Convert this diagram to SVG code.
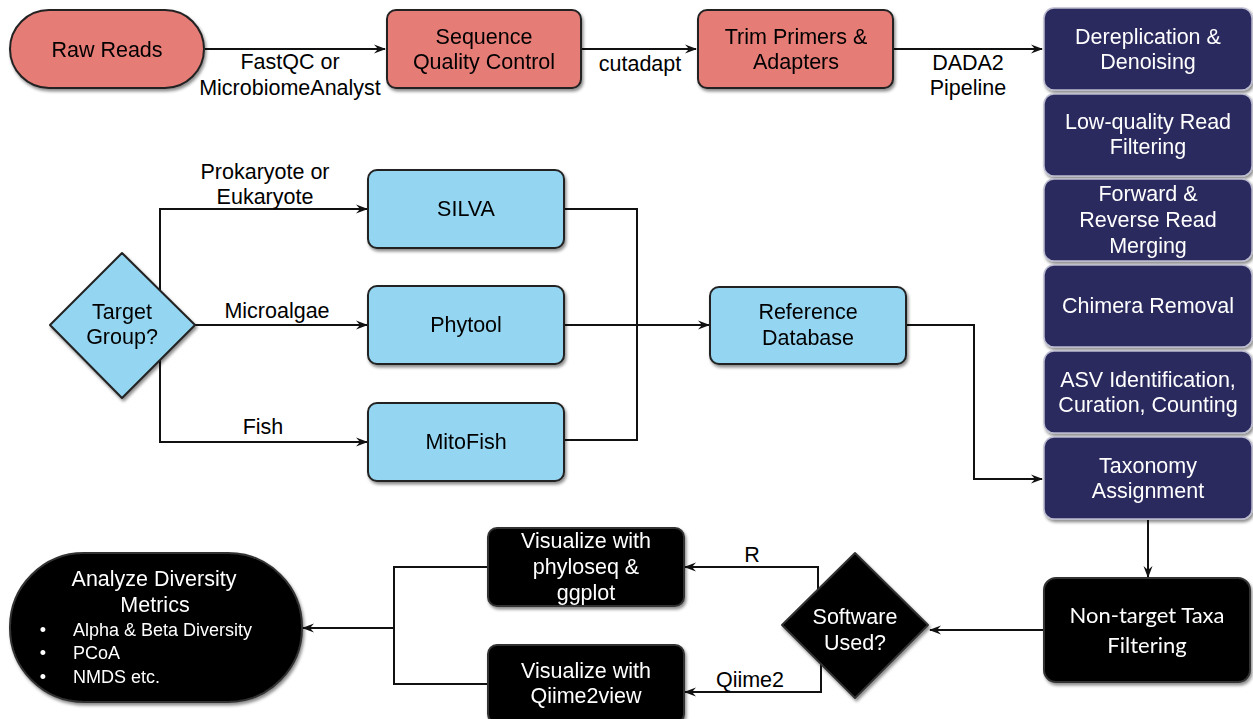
<svg xmlns="http://www.w3.org/2000/svg" width="1253" height="719" viewBox="0 0 1253 719">
<style>
  .t{font-family:"Liberation Sans",Arial,sans-serif;font-size:21.5px;text-anchor:middle;fill:#000}
  .w{fill:#fff}
  .cal{font-family:Lato,"Open Sans",sans-serif;font-size:22px;text-anchor:middle;fill:#fff}
  .sm{font-family:"Liberation Sans",Arial,sans-serif;font-size:18px;fill:#fff}
  .red{fill:#e57b76;stroke:#222;stroke-width:2}
  .blue{fill:#94d5f1;stroke:#222;stroke-width:2}
  .navy{fill:#2b2a5f;stroke:#bcbcd0;stroke-width:1.5}
  .blk{fill:#000;stroke:#333;stroke-width:2}
  .c{fill:none;stroke:#111;stroke-width:2}
  .cw{fill:none;stroke:#fff;stroke-width:2}
</style>
<defs>
  <filter id="sh" x="-10%" y="-10%" width="130%" height="140%">
    <feDropShadow dx="1.5" dy="2.5" stdDeviation="1.5" flood-color="#000" flood-opacity="0.45"/>
  </filter>
  <marker id="a" viewBox="0 0 12 10" refX="11" refY="5" markerWidth="12" markerHeight="10" markerUnits="userSpaceOnUse" orient="auto">
    <path d="M0,0.5 L12,5 L0,9.5 L4,5 z" fill="#111"/>
  </marker>
  <marker id="aw" viewBox="0 0 12 10" refX="11" refY="5" markerWidth="11" markerHeight="9" markerUnits="userSpaceOnUse" orient="auto">
    <path d="M0,0.5 L12,5 L0,9.5 L4,5 z" fill="#fff"/>
  </marker>
</defs>
<rect width="1253" height="719" fill="#fff"/>

<g id="connectors">
  <path class="c" d="M205,49 H385" marker-end="url(#a)"/>
  <path class="c" d="M581,49 H696" marker-end="url(#a)"/>
  <path class="c" d="M893,49 H1042" marker-end="url(#a)"/>
  <path class="c" d="M160,291 V209 H367" marker-end="url(#a)"/>
  <path class="c" d="M195,325 H367" marker-end="url(#a)"/>
  <path class="c" d="M160,359 V442 H367" marker-end="url(#a)"/>
  <path class="c" d="M564,209 H637 V440 H564"/>
  <path class="c" d="M564,325 H709" marker-end="url(#a)"/>
  <path class="c" d="M906,325 H974 V479 H1042" marker-end="url(#a)"/>
  <path class="c" d="M1148,520 V577" marker-end="url(#a)"/>
  <path class="c" d="M1043,630 H930" marker-end="url(#a)"/>
  <path class="c" d="M818,590 V567 H685" marker-end="url(#a)"/>
  <path class="c" d="M821,664 V692 H685" marker-end="url(#a)"/>
  <path class="c" d="M488,567 H394 V684 H488"/>
  <path class="c" d="M394,628 H303" marker-end="url(#a)"/>
  <g id="inner-arrows">
    <path class="cw" d="M1140,86 V99" marker-end="url(#aw)"/>
    <path class="cw" d="M1140,172 V184" marker-end="url(#aw)"/>
    <path class="cw" d="M1140,257 V270" marker-end="url(#aw)"/>
    <path class="cw" d="M1140,343 V356" marker-end="url(#aw)"/>
    <path class="cw" d="M1140,429 V442" marker-end="url(#aw)"/>
  </g>
</g>

<g id="labels">
  <text class="t" x="290" y="69">FastQC or</text>
  <text class="t" x="290" y="95">MicrobiomeAnalyst</text>
  <text class="t" x="640" y="71">cutadapt</text>
  <text class="t" x="968" y="70">DADA2</text>
  <text class="t" x="968" y="95">Pipeline</text>
  <text class="t" x="265" y="179">Prokaryote or</text>
  <text class="t" x="265" y="204">Eukaryote</text>
  <text class="t" x="277" y="318">Microalgae</text>
  <text class="t" x="263" y="434">Fish</text>
  <text class="t" x="752" y="562">R</text>
  <text class="t" x="750" y="687">Qiime2</text>
</g>

<g id="raw-reads" filter="url(#sh)">
  <rect class="red" x="10" y="10" width="194" height="78" rx="39"/>
  <text class="t" x="107" y="57">Raw Reads</text>
</g>
<g id="seq-qc" filter="url(#sh)">
  <rect class="red" x="387" y="10" width="194" height="78" rx="9"/>
  <text class="t" x="484" y="44">Sequence</text>
  <text class="t" x="484" y="69">Quality Control</text>
</g>
<g id="trim" filter="url(#sh)">
  <rect class="red" x="698" y="10" width="195" height="78" rx="9"/>
  <text class="t" x="796" y="44">Trim Primers &amp;</text>
  <text class="t" x="796" y="69">Adapters</text>
</g>

<g id="derep" filter="url(#sh)">
  <rect class="navy" x="1044" y="8" width="208" height="82" rx="10"/>
  <text class="t w" x="1148" y="44">Dereplication &amp;</text>
  <text class="t w" x="1148" y="69">Denoising</text>
</g>
<g id="lowq" filter="url(#sh)">
  <rect class="navy" x="1044" y="94" width="208" height="82" rx="10"/>
  <text class="t w" x="1148" y="129">Low-quality Read</text>
  <text class="t w" x="1148" y="154">Filtering</text>
</g>
<g id="merge" filter="url(#sh)">
  <rect class="navy" x="1044" y="179" width="208" height="82" rx="10"/>
  <text class="t w" x="1148" y="201">Forward &amp;</text>
  <text class="t w" x="1148" y="227">Reverse Read</text>
  <text class="t w" x="1148" y="253">Merging</text>
</g>
<g id="chimera" filter="url(#sh)">
  <rect class="navy" x="1044" y="265" width="208" height="82" rx="10"/>
  <text class="t w" x="1148" y="313">Chimera Removal</text>
</g>
<g id="asv" filter="url(#sh)">
  <rect class="navy" x="1044" y="351" width="208" height="82" rx="10"/>
  <text class="t w" x="1148" y="387">ASV Identification,</text>
  <text class="t w" x="1148" y="412">Curation, Counting</text>
</g>
<g id="taxonomy" filter="url(#sh)">
  <rect class="navy" x="1044" y="437" width="208" height="82" rx="10"/>
  <text class="t w" x="1148" y="473">Taxonomy</text>
  <text class="t w" x="1148" y="498">Assignment</text>
</g>

<g id="target-group" filter="url(#sh)">
  <path class="blue" stroke-linejoin="round" d="M122,253 L195,325 L122,398 L50,325 Z"/>
  <text class="t" x="122" y="319">Target</text>
  <text class="t" x="122" y="344">Group?</text>
</g>
<g id="silva" filter="url(#sh)">
  <rect class="blue" x="368" y="170" width="196" height="78" rx="9"/>
  <text class="t" x="466" y="216">SILVA</text>
</g>
<g id="phytool" filter="url(#sh)">
  <rect class="blue" x="368" y="286" width="196" height="78" rx="9"/>
  <text class="t" x="466" y="332">Phytool</text>
</g>
<g id="mitofish" filter="url(#sh)">
  <rect class="blue" x="368" y="403" width="196" height="78" rx="9"/>
  <text class="t" x="466" y="449">MitoFish</text>
</g>
<g id="refdb" filter="url(#sh)">
  <rect class="blue" x="710" y="287" width="196" height="77" rx="9"/>
  <text class="t" x="808" y="319">Reference</text>
  <text class="t" x="808" y="345">Database</text>
</g>

<g id="nontarget" filter="url(#sh)">
  <rect class="blk" x="1044" y="578" width="206" height="104" rx="12"/>
  <text class="cal" x="1147" y="623">Non-target Taxa</text>
  <text class="cal" x="1147" y="653">Filtering</text>
</g>
<g id="software" filter="url(#sh)">
  <path class="blk" stroke-linejoin="round" d="M855,553 L928,625 L855,698 L782,625 Z"/>
  <text class="t w" x="855" y="624">Software</text>
  <text class="t w" x="855" y="650">Used?</text>
</g>
<g id="vis-phyloseq" filter="url(#sh)">
  <rect class="blk" x="488" y="528" width="196" height="78" rx="9"/>
  <text class="t w" x="586" y="548">Visualize with</text>
  <text class="t w" x="586" y="574">phyloseq &amp;</text>
  <text class="t w" x="586" y="600">ggplot</text>
</g>
<g id="vis-qiime" filter="url(#sh)">
  <rect class="blk" x="488" y="645" width="196" height="78" rx="9"/>
  <text class="t w" x="586" y="678">Visualize with</text>
  <text class="t w" x="586" y="703">Qiime2view</text>
</g>
<g id="analyze" filter="url(#sh)">
  <rect class="blk" x="10" y="553" width="292" height="149" rx="74"/>
  <text class="t w" x="154" y="586">Analyze Diversity</text>
  <text class="t w" x="155" y="612">Metrics</text>
  <text class="sm" x="43" y="636" text-anchor="middle">•</text>
  <text class="sm" x="73" y="636">Alpha &amp; Beta Diversity</text>
  <text class="sm" x="43" y="659" text-anchor="middle">•</text>
  <text class="sm" x="73" y="659">PCoA</text>
  <text class="sm" x="43" y="683" text-anchor="middle">•</text>
  <text class="sm" x="73" y="683">NMDS etc.</text>
</g>
</svg>
